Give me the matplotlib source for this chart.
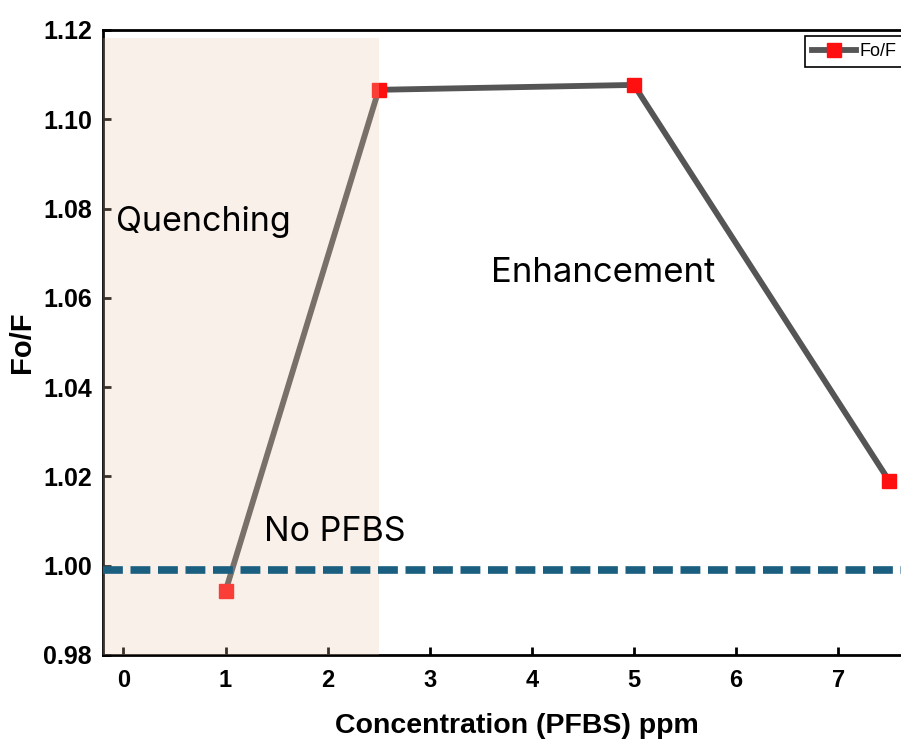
import numpy as np
import matplotlib
matplotlib.use("Agg")
import matplotlib.pyplot as plt

# measured Fo/F ratios vs PFBS concentration
conc = [1, 2.5, 5, 7.5]
fo_f = [0.9943, 1.1066, 1.1077, 1.019]
baseline = 0.999          # no-PFBS reference level
quench_end = 2.5          # edge of the quenching zone
yticks = [0.98, 1.00, 1.02, 1.04, 1.06, 1.08, 1.10, 1.12]
xticks = [0, 1, 2, 3, 4, 5, 6, 7]

plt.rcParams['font.family'] = ['Liberation Sans', 'DejaVu Sans']

fig = plt.figure(figsize=(9.01, 7.40), dpi=100)
ax = fig.add_axes([103 / 901, 1 - 655 / 740, (930 - 103) / 901, (655 - 30) / 740])

ax.plot(conc, fo_f, color='#555555', lw=4.2, marker='s', ms=9.5,
        mfc='#ff1010', mec='#ff1010', label='Fo/F', zorder=2)

# shaded quenching zone, laid over the curve
ax.fill_between([-0.2, quench_end], 0.98, 1.1182, color=(236/255, 196/255, 172/255),
                alpha=0.25, lw=0, zorder=3)

ax.axhline(baseline, color='#1a5e80', lw=5.5, dashes=(2.6, 1.0), zorder=4)

ax.text(-0.07, 1.077, 'Quenching', fontsize=24.5, family='Inter', va='center', zorder=5)
ax.text(3.6, 1.0656, 'Enhancement', fontsize=25, family='Inter', va='center', zorder=5)
ax.text(1.38, 1.0075, 'No PFBS', fontsize=24.5, family='Inter', va='center', zorder=5)

ax.set_xlim(-0.2, 7.9)
ax.set_ylim(0.98, 1.12)
ax.set_xticks(xticks)
ax.set_yticks(yticks)
ax.set_yticklabels(['%.2f' % v for v in yticks])
ax.tick_params(direction='in', length=6, width=2, pad=8)
ax.tick_params(axis='y', labelsize=18)
ax.tick_params(axis='x', labelsize=17, pad=10)
for lab in ax.get_xticklabels() + ax.get_yticklabels():
    lab.set_fontweight('bold')
for sp in ax.spines.values():
    sp.set_linewidth(2)

ax.set_xlabel('Concentration (PFBS) ppm', fontsize=20.5, fontweight='bold', labelpad=15)
ax.set_ylabel('Fo/F', fontsize=21, fontweight='bold', labelpad=5)

leg = ax.legend(loc='upper left', bbox_to_anchor=(805 / 901, 1 - 36 / 740),
                bbox_transform=fig.transFigure, borderaxespad=0, fancybox=False,
                edgecolor='black', fontsize=13, handlelength=2.4, borderpad=0.4,
                handletextpad=0.2, framealpha=1)
leg.get_frame().set_linewidth(1.2)

fig.savefig('out.png', dpi=100)
